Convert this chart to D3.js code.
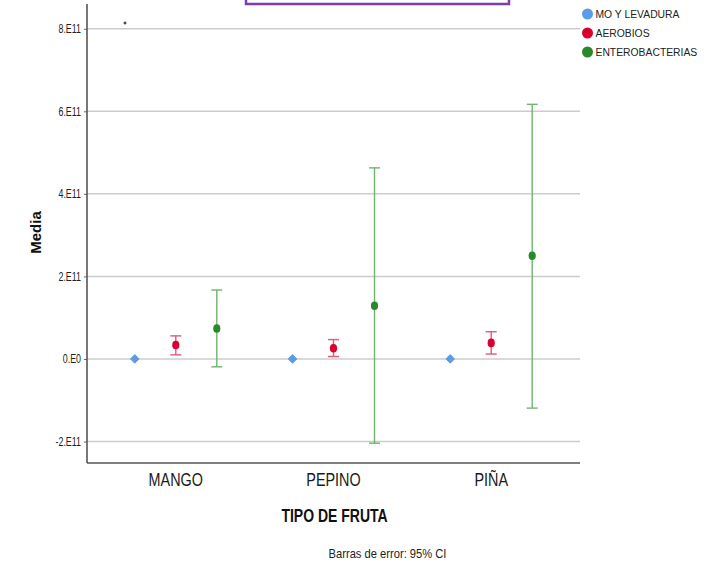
<!DOCTYPE html>
<html>
<head>
<meta charset="utf-8">
<script src="https://cdn.jsdelivr.net/npm/d3@7"></script>
<style>
  html, body { margin: 0; padding: 0; background: #fff; }
  svg { display: block; font-family: "Liberation Sans", Arial, sans-serif; }
</style>
</head>
<body>
<svg id="chart" width="723" height="563"></svg>
<script>
// Fruit types on the x axis
const categories = ["MANGO", "PEPINO", "PIÑA"];
// Microorganism groups (legend order)
const seriesNames = ["MO Y LEVADURA", "AEROBIOS", "ENTEROBACTERIAS"];
const seriesColors = ["#5b9be8", "#d9002f", "#2a892a"];
const barColors = ["#7fb2ee", "#e4587a", "#6fb46f"];

// Means and 95% CI bounds per fruit
const moMean = [2.0e8, 1.5e8, 1.8e8];
const aerobiosMean = [3.4e10, 2.6e10, 3.9e10];
const aerobiosLow = [1.0e10, 0.6e10, 1.2e10];
const aerobiosHigh = [5.6e10, 4.7e10, 6.6e10];
const enteroMean = [7.4e10, 1.29e11, 2.5e11];
const enteroLow = [-1.9e10, -2.04e11, -1.19e11];
const enteroHigh = [1.67e11, 4.63e11, 6.17e11];

// Y axis ticks
const yTickValues = [-2e11, 0, 2e11, 4e11, 6e11, 8e11];
const yTickLabels = ["-2.E11", "0.E0", "2.E11", "4.E11", "6.E11", "8.E11"];

const svg = d3.select("#chart");
const plotLeft = 87, plotRight = 580, plotTop = 4, plotBottom = 463;

const y = d3.scaleLinear().domain([-2.52e11, 8.6e11]).range([plotBottom, plotTop]);
const x = d3.scalePoint().domain(categories).range([plotLeft, plotRight]).padding(0.563);
const xs = d3.scalePoint().domain(seriesNames).range([-41, 41]);

// Header box cut at the top edge
svg.append("rect")
  .attr("x", 246).attr("y", -20).attr("width", 263).attr("height", 24)
  .attr("fill", "#fff").attr("stroke", "#7b3cb6").attr("stroke-width", 2.5);

// Gridlines
svg.append("g").selectAll("line").data(yTickValues).join("line")
  .attr("x1", plotLeft).attr("x2", plotRight)
  .attr("y1", d => y(d)).attr("y2", d => y(d))
  .attr("stroke", "#cccccc").attr("stroke-width", 1.5);

// Y axis
const yAxis = d3.axisLeft(y).tickValues(yTickValues).tickSize(3).tickPadding(3)
  .tickFormat((d, i) => yTickLabels[i]);
const gy = svg.append("g").attr("transform", `translate(${plotLeft},0)`).call(yAxis);
gy.select(".domain").remove();
gy.selectAll(".tick line").attr("stroke", "#666");
gy.selectAll(".tick text")
  .attr("fill", "#222").attr("font-size", 12)
  .attr("font-family", "'Liberation Sans', Arial, sans-serif")
  .attr("x", 0)
  .attr("transform", "translate(-6,0) scale(0.74,1)");

// Axis lines
svg.append("line").attr("x1", plotLeft).attr("x2", plotLeft).attr("y1", plotTop).attr("y2", plotBottom)
  .attr("stroke", "#555").attr("stroke-width", 1.6);
svg.append("line").attr("x1", plotLeft).attr("x2", plotRight).attr("y1", plotBottom).attr("y2", plotBottom)
  .attr("stroke", "#555").attr("stroke-width", 1.6);

// X axis category labels
svg.append("g").selectAll("text").data(categories).join("text")
  .attr("transform", d => `translate(${x(d)},485.5) scale(0.8,1)`)
  .attr("text-anchor", "middle").attr("font-size", 18).attr("fill", "#1a1a1a")
  .text(d => d);

// Axis titles
svg.append("text")
  .attr("transform", "translate(334.5,521.5) scale(0.8,1)")
  .attr("text-anchor", "middle").attr("font-size", 17.5).attr("font-weight", "bold")
  .attr("fill", "#111").text("TIPO DE FRUTA");
svg.append("text")
  .attr("transform", "translate(40.5,232.5) rotate(-90)")
  .attr("text-anchor", "middle").attr("font-size", 15).attr("font-weight", "bold")
  .attr("fill", "#111").text("Media");
svg.append("text")
  .attr("transform", "translate(387.5,558) scale(0.86,1)")
  .attr("text-anchor", "middle").attr("font-size", 13).attr("fill", "#222")
  .text("Barras de error: 95% CI");

// Error bars with mean markers
function errorBars(si, mean, low, high) {
  const rows = categories.map((c, i) => ({ c, m: mean[i], lo: low[i], hi: high[i] }));
  const g = svg.append("g").attr("stroke", barColors[si]).attr("stroke-width", 1.4);
  const cx = d => x(d.c) + xs(seriesNames[si]);
  g.selectAll(".v").data(rows).join("line")
    .attr("x1", cx).attr("x2", cx).attr("y1", d => y(d.lo)).attr("y2", d => y(d.hi));
  g.selectAll(".t").data(rows).join("line")
    .attr("x1", d => cx(d) - 5.5).attr("x2", d => cx(d) + 5.5)
    .attr("y1", d => y(d.hi)).attr("y2", d => y(d.hi));
  g.selectAll(".b").data(rows).join("line")
    .attr("x1", d => cx(d) - 5.5).attr("x2", d => cx(d) + 5.5)
    .attr("y1", d => y(d.lo)).attr("y2", d => y(d.lo));
  svg.append("g").selectAll("ellipse").data(rows).join("ellipse")
    .attr("cx", cx).attr("cy", d => y(d.m)).attr("rx", 3.6).attr("ry", 4.3)
    .attr("fill", seriesColors[si]);
}
errorBars(1, aerobiosMean, aerobiosLow, aerobiosHigh);
errorBars(2, enteroMean, enteroLow, enteroHigh);

// MO y levadura means as small diamonds
svg.append("g").selectAll("path").data(categories.map((c, i) => ({ c, m: moMean[i] }))).join("path")
  .attr("transform", d => `translate(${x(d.c) + xs(seriesNames[0])},${y(d.m)})`)
  .attr("d", "M0,-4.3L4.3,0L0,4.3L-4.3,0Z")
  .attr("fill", seriesColors[0]).attr("stroke", seriesColors[0])
  .attr("stroke-width", 1).attr("stroke-linejoin", "round");

// Small plus mark near the top
svg.append("path").attr("d", "M123.5,23H126.5M125,21.5V24.5")
  .attr("stroke", "#111").attr("stroke-width", 1);

// Legend
const legend = svg.append("g").selectAll("g").data(seriesNames).join("g")
  .attr("transform", (d, i) => `translate(587.5,${14 + i * 19})`);
legend.append("circle").attr("r", 5.5).attr("fill", (d, i) => seriesColors[i]);
legend.append("text")
  .attr("transform", "translate(8,4) scale(0.9,1)")
  .attr("font-size", 11.5).attr("fill", "#222").text(d => d);
</script>
</body>
</html>
